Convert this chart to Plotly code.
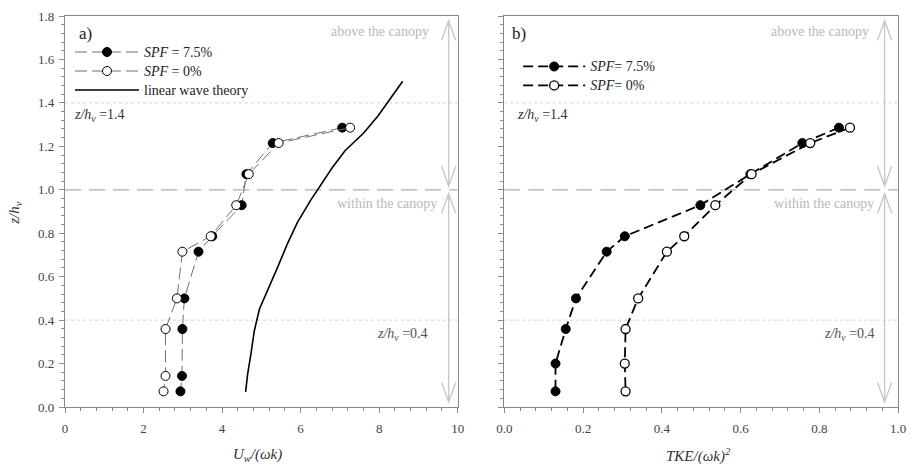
import plotly.graph_objects as go

# Relative height above bed
z_pts = [1.286, 1.215, 1.072, 0.929, 0.786, 0.715, 0.50, 0.359, 0.143, 0.072]

# a) normalised orbital velocity
uw_spf75 = [7.06, 5.29, 4.62, 4.50, 3.75, 3.40, 3.04, 2.99, 2.98, 2.94]
uw_spf0 = [7.26, 5.44, 4.68, 4.36, 3.71, 2.99, 2.85, 2.56, 2.56, 2.51]

# linear wave theory profile
z_lwt = [0.07, 0.15, 0.25, 0.35, 0.45, 0.55, 0.65, 0.75, 0.85, 0.95, 1.0, 1.1, 1.18, 1.26, 1.34, 1.42, 1.5]
uw_lwt = [4.60, 4.65, 4.74, 4.82, 4.95, 5.20, 5.43, 5.66, 5.92, 6.25, 6.44, 6.80, 7.13, 7.60, 7.97, 8.28, 8.60]

# b) normalised turbulent kinetic energy
z_tke = [1.286, 1.215, 1.072, 0.929, 0.786, 0.715, 0.50, 0.359, 0.20, 0.072]
tke_spf75 = [0.850, 0.757, 0.625, 0.498, 0.306, 0.260, 0.182, 0.156, 0.130, 0.130]
tke_spf0 = [0.878, 0.777, 0.628, 0.536, 0.457, 0.413, 0.340, 0.308, 0.306, 0.308]

SERIF = "Liberation Serif"
AXC = "#8a8a8a"
LIGHT = "#c8c8c8"


def big(text):
    # legend rows keep a compact pitch while the label itself renders at 14px
    return f'<span style="font-size:14px">{text}</span>'


fig = go.Figure()

# ---- panel a
fig.add_trace(go.Scatter(
    x=uw_spf75, y=z_pts, mode="lines+markers", name=big("<i>SPF</i> = 7.5%"),
    line=dict(color="#707070", width=1, dash="12px,5px"),
    marker=dict(symbol="circle", size=9, color="black", line=dict(color="black", width=1)),
    xaxis="x", yaxis="y", legend="legend"))
fig.add_trace(go.Scatter(
    x=uw_spf0, y=z_pts, mode="lines+markers", name=big("<i>SPF</i> = 0%"),
    line=dict(color="#707070", width=1, dash="12px,5px"),
    marker=dict(symbol="circle", size=9, color="white", line=dict(color="black", width=1)),
    xaxis="x", yaxis="y", legend="legend"))
fig.add_trace(go.Scatter(
    x=uw_lwt, y=z_lwt, mode="lines", name=big("linear wave theory"),
    line=dict(color="black", width=1.6),
    xaxis="x", yaxis="y", legend="legend"))

# ---- panel b
fig.add_trace(go.Scatter(
    x=tke_spf75, y=z_tke, mode="lines+markers", name=big("<i>SPF</i>= 7.5%"),
    line=dict(color="black", width=1.8, dash="10px,5px"),
    marker=dict(symbol="circle", size=9, color="black", line=dict(color="black", width=1)),
    xaxis="x2", yaxis="y2", legend="legend2"))
fig.add_trace(go.Scatter(
    x=tke_spf0, y=z_tke, mode="lines+markers", name=big("<i>SPF</i>= 0%"),
    line=dict(color="black", width=1.8, dash="10px,5px"),
    marker=dict(symbol="circle", size=9, color="white", line=dict(color="black", width=1.3)),
    xaxis="x2", yaxis="y2", legend="legend2"))

shapes = []
annotations = []

# reference levels across both panels
for xr in ("x", "x2"):
    yr = "y" if xr == "x" else "y2"
    shapes.append(dict(type="line", xref=f"{xr} domain", yref=yr, x0=0, x1=1, y0=1.0, y1=1.0,
                       line=dict(color="#b0b0b0", width=1.2, dash="16px,8px"), layer="below"))
    for lev in (1.4, 0.4):
        shapes.append(dict(type="line", xref=f"{xr} domain", yref=yr, x0=0, x1=1, y0=lev, y1=lev,
                           line=dict(color="#d0d0d0", width=1, dash="dot"), layer="below"))


def double_arrow(xr, yr, x, y0, y1, hw, hl):
    """Vertical double-headed arrow with open V heads."""
    path = (f"M {x} {y0} L {x} {y1} "
            f"M {x - hw} {y1 - hl} L {x} {y1} L {x + hw} {y1 - hl} "
            f"M {x - hw} {y0 + hl} L {x} {y0} L {x + hw} {y0 + hl}")
    return dict(type="path", xref=xr, yref=yr, path=path,
                line=dict(color=LIGHT, width=1.4), layer="below")


# arrows marking the regions above / within the canopy
shapes.append(double_arrow("x", "y", 9.77, 1.018, 1.778, 0.18, 0.09))
shapes.append(double_arrow("x", "y", 9.77, 0.023, 0.982, 0.18, 0.09))
shapes.append(double_arrow("x2", "y2", 0.966, 1.018, 1.778, 0.018, 0.09))
shapes.append(double_arrow("x2", "y2", 0.966, 0.023, 0.982, 0.018, 0.09))


def note(xr, yr, x, y, text, anchor="left", color="#333", size=14):
    annotations.append(dict(xref=xr, yref=yr, x=x, y=y, text=text, showarrow=False,
                            xanchor=anchor, yanchor="middle",
                            font=dict(family=SERIF, size=size, color=color)))


zh = "<i>z/h</i><sub><i>v</i></sub>"
note("x", "y", 0.30, 1.72, "a)", size=17, color="#222")
note("x2", "y2", 0.015, 1.72, "b)", size=17, color="#222")
note("x", "y", 9.32, 1.728, "above the canopy", "right", "#b8b8b8")
note("x", "y", 9.52, 0.936, "within the canopy", "right", "#b8b8b8")
note("x2", "y2", 0.931, 1.728, "above the canopy", "right", "#b8b8b8")
note("x2", "y2", 0.943, 0.936, "within the canopy", "right", "#b8b8b8")
note("x", "y", 0.18, 1.343, zh + " =1.4", color="#333")
note("x2", "y2", 0.028, 1.343, zh + " =1.4", color="#333")
note("x", "y", 7.9, 0.335, zh + " =0.4", color="#555")
note("x2", "y2", 0.807, 0.335, zh + " =0.4", color="#555")

# axis titles
annotations.append(dict(xref="paper", yref="paper", x=-0.061, y=0.497, text=zh, textangle=-90,
                        showarrow=False, xanchor="center", yanchor="middle",
                        font=dict(family=SERIF, size=15, color="#333")))
annotations.append(dict(xref="paper", yref="paper", x=0.231, y=-0.123,
                        text="<i>U</i><sub><i>w</i></sub><i>/(ωk)</i>",
                        showarrow=False, xanchor="center", yanchor="middle",
                        font=dict(family=SERIF, size=15, color="#333")))
annotations.append(dict(xref="paper", yref="paper", x=0.761, y=-0.123,
                        text="<i>TKE/(ωk)</i><sup><i>2</i></sup>",
                        showarrow=False, xanchor="center", yanchor="middle",
                        font=dict(family=SERIF, size=15, color="#333")))

axis_common = dict(showgrid=False, zeroline=False, showline=True, linecolor=AXC, linewidth=1.2,
                   mirror=True, ticks="outside", ticklen=5, tickcolor=AXC, tickwidth=1,
                   tickfont=dict(family=SERIF, size=13, color="#444"))

fig.update_layout(
    width=915, height=470,
    margin=dict(l=65, r=12, t=9, b=63),
    paper_bgcolor="white", plot_bgcolor="white",
    font=dict(family=SERIF),
    xaxis=dict(domain=[0, 0.4714], range=[0, 10], dtick=2, anchor="y", ticklabelstandoff=4,
               minor=dict(dtick=0.4, ticks="outside", ticklen=3, tickcolor=AXC), **axis_common),
    yaxis=dict(range=[0, 1.8], dtick=0.2, tickformat=".1f", anchor="x", ticklabelstandoff=2,
               minor=dict(dtick=0.04, ticks="outside", ticklen=3, tickcolor=AXC), **axis_common),
    xaxis2=dict(domain=[0.5274, 1], range=[0, 1], dtick=0.2, tickformat=".1f", anchor="y2",
                ticklabelstandoff=4,
                minor=dict(dtick=0.04, ticks="outside", ticklen=3, tickcolor=AXC), **axis_common),
    yaxis2=dict(range=[0, 1.8], dtick=0.2, anchor="x2", showticklabels=False,
                minor=dict(dtick=0.04, ticks="outside", ticklen=3, tickcolor=AXC), **axis_common),
    legend=dict(x=0.006, y=0.945, xanchor="left", yanchor="top", bgcolor="rgba(0,0,0,0)",
                itemwidth=64, tracegroupgap=0, traceorder="normal",
                font=dict(family=SERIF, size=11.5, color="#222")),
    legend2=dict(x=0.544, y=0.908, xanchor="left", yanchor="top", bgcolor="rgba(0,0,0,0)",
                 itemwidth=62, tracegroupgap=0, traceorder="normal",
                 font=dict(family=SERIF, size=11.5, color="#222")),
    shapes=shapes,
    annotations=annotations,
)

fig.write_html("out.html")
